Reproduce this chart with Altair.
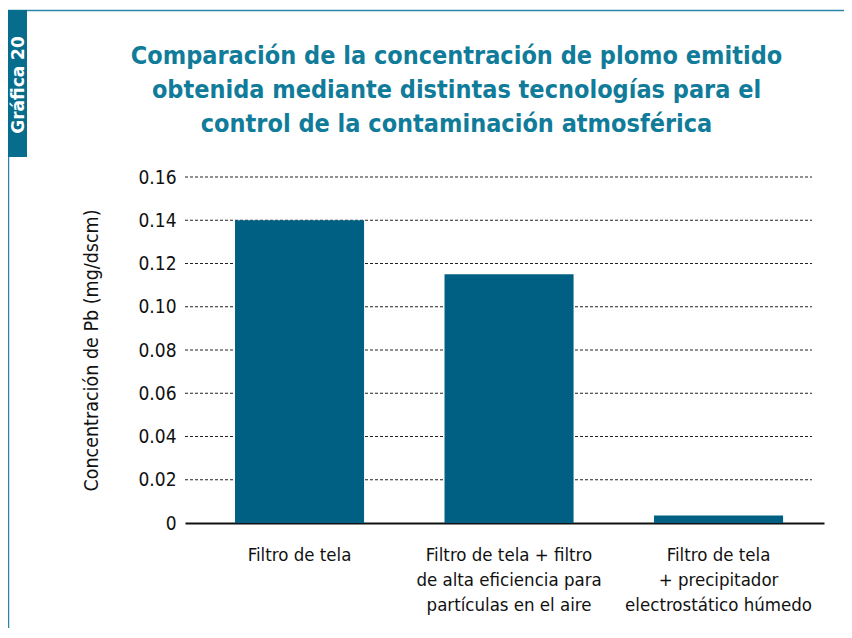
import altair as alt
import pandas as pd

categories = [
    "Filtro de tela",
    "Filtro de tela + filtro\nde alta eficiencia para\npartículas en el aire",
    "Filtro de tela\n+ precipitador\nelectrostático húmedo",
]
values = [0.14, 0.115, 0.0035]
tick_values = [0, 0.02, 0.04, 0.06, 0.08, 0.10, 0.12, 0.14, 0.16]
grid_values = [0.02, 0.04, 0.06, 0.08, 0.10, 0.12, 0.14, 0.16]
title_lines = [
    "Comparación de la concentración de plomo emitido",
    "obtenida mediante distintas tecnologías para el",
    "control de la contaminación atmosférica",
]
side_label = "Gráfica 20"
y_title = "Concentración de Pb (mg/dscm)"

FONT = "Liberation Sans Narrow, DejaVu Sans Condensed, sans-serif"
BAR = "#006084"
TEAL = "#117c9a"
BOX = "#076d8d"
BORDER = "#2a86a6"

W, H = 639, 346

df = pd.DataFrame({"cat": categories, "val": values})
gdf = pd.DataFrame({"g": grid_values})

yscale = alt.Scale(domain=[0, 0.16], nice=False)
yaxis = alt.Axis(
    title=y_title,
    values=tick_values,
    labelExpr="datum.value == 0 ? '0' : format(datum.value, '.2f')",
    labelFont=FONT,
    labelFontSize=19,
    labelColor="#111",
    labelPadding=9,
    ticks=False,
    domain=False,
    grid=False,
    titleFont=FONT,
    titleFontSize=19.5,
    titleFontWeight="normal",
    titleColor="#111",
    titleAngle=-90,
    titleX=-88,
    titleY=173,
    titleAlign="center",
    titleBaseline="alphabetic",
)

grid = alt.Chart(gdf).mark_rule(color="#222", strokeWidth=1, strokeDash=[3, 2]).encode(
    y=alt.Y("g:Q", scale=yscale, axis=yaxis, title=y_title),
    x=alt.value(0),
    x2=alt.value(627),
)

bars = alt.Chart(df).mark_bar(color=BAR).encode(
    x=alt.X(
        "cat:N",
        sort=categories,
        scale=alt.Scale(paddingInner=0.384, paddingOuter=0.217, align=0.55),
        axis=alt.Axis(
            title=None,
            labelAngle=0,
            labelExpr="split(datum.label, '\\n')",
            labelFont=FONT,
            labelFontSize=18.5,
            labelLineHeight=25,
            labelColor="#111",
            labelPadding=22,
            labelLimit=0,
            ticks=False,
            domainColor="#111",
            domainWidth=2,
            labelBaseline="top",
        ),
    ),
    y=alt.Y("val:Q", scale=yscale, axis=yaxis, title=y_title),
)

one = alt.Data(values=[{}])

top_line = alt.Chart(one).mark_rule(color=BORDER, strokeWidth=1.5).encode(
    x=alt.value(-177), x2=alt.value(700), y=alt.value(-166.5)
)
left_line = alt.Chart(one).mark_rule(color=BORDER, strokeWidth=1.5).encode(
    x=alt.value(-176.5), y=alt.value(-167), y2=alt.value(460)
)
box = alt.Chart(one).mark_rect(color=BOX).encode(
    x=alt.value(-177), x2=alt.value(-158), y=alt.value(-167), y2=alt.value(-20)
)
box_text = alt.Chart(one).mark_text(
    text=side_label, angle=270, color="white", font="DejaVu Sans", fontWeight="bold",
    fontSize=17, align="center", baseline="alphabetic",
).encode(x=alt.value(-161), y=alt.value(-92))

title = alt.Chart(one).mark_text(
    text=title_lines, color=TEAL, font=FONT, fontWeight="bold", fontSize=25,
    lineHeight=34, align="center", baseline="alphabetic",
).encode(x=alt.value(271.5), y=alt.value(-113))

chart = alt.layer(grid, bars, top_line, left_line, box, box_text, title).properties(
    width=W, height=H,
    autosize=alt.AutoSizeParams(type="none"),
    padding={"left": 177, "top": 169, "right": 20, "bottom": 105},
).configure_view(stroke=None)

chart.save("out.html", embed_options={"renderer": "svg", "actions": False})
